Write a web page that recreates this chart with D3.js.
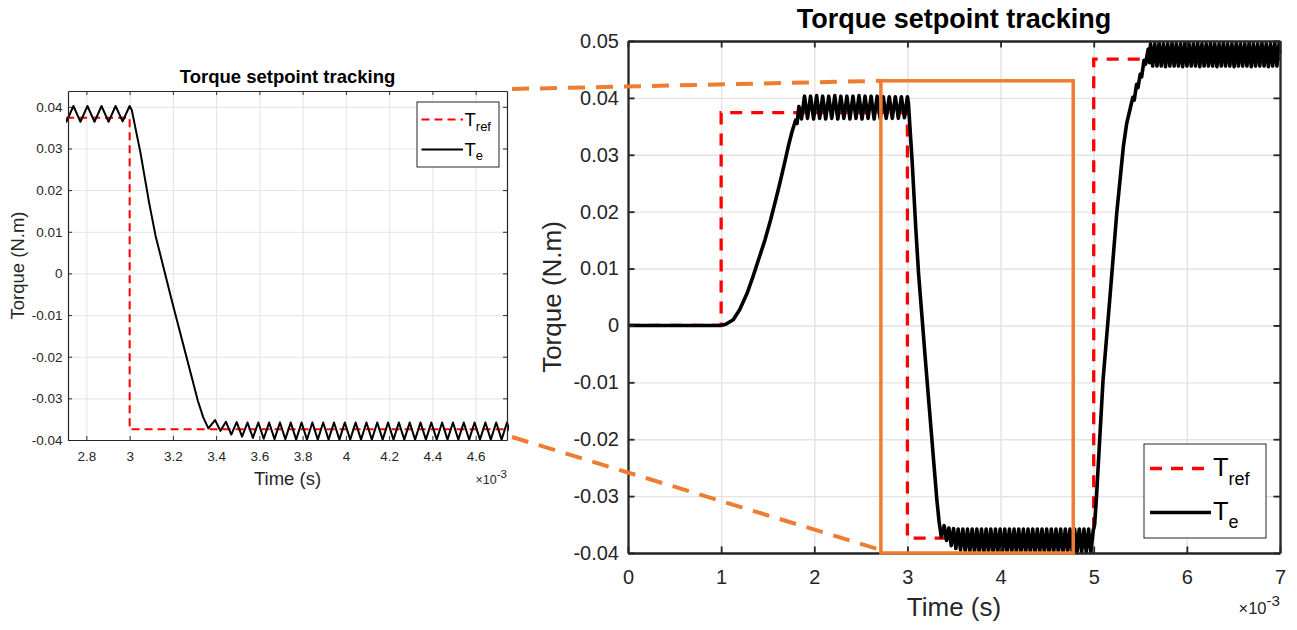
<!DOCTYPE html>
<html>
<head>
<meta charset="utf-8">
<script src="https://cdn.jsdelivr.net/npm/d3@7"></script>
<style>
  body { margin: 0; background: #fff; }
</style>
</head>
<body>
<div id="container"></div>
<script>
const WIDTH = 1297;
const HEIGHT = 630;
const FONT = '"Liberation Sans", Arial, Helvetica, sans-serif';
const AXIS = '#262626';
const GRID = '#e3e3e3';
const ORANGE = '#ED7D31';

// time is in ms (the axis shows x10^-3 s), torque in N.m
const refTime = [0, 1, 1, 3, 3, 5, 5, 7];
const refValue = [0, 0, 0.0374, 0.0374, -0.0374, -0.0374, 0.0468, 0.0468];

// electromagnetic torque
const teIdle = [[0, 0], [0.5, 0], [1.0, 0]];
const teRise1 = [[1.05, 0.0002], [1.13, 0.001], [1.2, 0.0028], [1.28, 0.0057], [1.34, 0.0085],
  [1.40, 0.0115], [1.47, 0.015], [1.53, 0.0185], [1.58, 0.0217], [1.63, 0.025], [1.68, 0.0285],
  [1.72, 0.0314], [1.76, 0.034], [1.80, 0.0361], [1.815, 0.0355], [1.835, 0.0385]];
const tePlateau1 = [[1.8625, 0.0363], [1.895, 0.0403], [1.9275, 0.0364], [1.96, 0.0403], [1.9925, 0.0363],
  [2.025, 0.0404], [2.0575, 0.0364], [2.09, 0.0403], [2.1225, 0.0363], [2.155, 0.0403], [2.1875, 0.0364],
  [2.22, 0.0404], [2.2525, 0.0363], [2.285, 0.0403], [2.3175, 0.0364], [2.35, 0.0403], [2.3825, 0.0363],
  [2.415, 0.0403], [2.4475, 0.0364], [2.48, 0.0404], [2.5125, 0.0363], [2.545, 0.0403], [2.5775, 0.0364],
  [2.61, 0.0403], [2.6425, 0.0363], [2.675, 0.0403], [2.7075, 0.0364], [2.74, 0.0402], [2.7725, 0.0364],
  [2.805, 0.0402], [2.8375, 0.0364], [2.87, 0.0402], [2.9025, 0.0364], [2.935, 0.0402], [2.9675, 0.0365],
  [3.0, 0.0402]];
const teFall = [[3.01, 0.0392], [3.05, 0.0290], [3.09, 0.0170], [3.12, 0.0090], [3.155, 0.0018],
  [3.19, -0.0055], [3.225, -0.0125], [3.26, -0.0195], [3.29, -0.0255], [3.315, -0.0305],
  [3.34, -0.0345], [3.364, -0.0372]];
const tePlateau2 = [[3.395, -0.0352], [3.42, -0.0378], [3.445, -0.0356], [3.47, -0.0387], [3.495, -0.0357],
  [3.52, -0.0392], [3.545, -0.0358], [3.57, -0.0395], [3.595, -0.0358], [3.62, -0.0397], [3.645, -0.0358],
  [3.67, -0.0398], [3.695, -0.0358], [3.72, -0.0398], [3.745, -0.0358], [3.77, -0.0399], [3.795, -0.0358],
  [3.82, -0.0399], [3.845, -0.0358], [3.87, -0.0399], [3.895, -0.0358], [3.92, -0.0399], [3.945, -0.0358],
  [3.97, -0.0399], [3.995, -0.0358], [4.02, -0.0399], [4.045, -0.0358], [4.07, -0.0399], [4.095, -0.0358],
  [4.12, -0.0399], [4.145, -0.0358], [4.17, -0.0399], [4.195, -0.0358], [4.22, -0.0399], [4.245, -0.0358],
  [4.27, -0.0399], [4.295, -0.0358], [4.32, -0.0399], [4.345, -0.0358], [4.37, -0.0399], [4.395, -0.0358],
  [4.42, -0.0399], [4.445, -0.0358], [4.47, -0.0399], [4.495, -0.0358], [4.52, -0.0399], [4.545, -0.0358],
  [4.57, -0.0399], [4.595, -0.0358], [4.62, -0.0399], [4.645, -0.0358], [4.67, -0.0399], [4.695, -0.0358],
  [4.72, -0.0399], [4.745, -0.0358], [4.77, -0.0399], [4.795, -0.0358], [4.82, -0.0399], [4.845, -0.0358],
  [4.87, -0.0399], [4.895, -0.0358], [4.92, -0.0399], [4.945, -0.0358], [4.97, -0.0399], [4.995, -0.0360]];
const teRise2 = [[5.01, -0.0350], [5.03, -0.0301], [5.10, -0.0096], [5.175, 0.0051], [5.247, 0.0197],
  [5.29, 0.0268], [5.318, 0.0314], [5.354, 0.0355], [5.39, 0.0380], [5.42, 0.0401], [5.435, 0.0396],
  [5.46, 0.0424], [5.475, 0.0418], [5.50, 0.0442], [5.515, 0.0437], [5.54, 0.0466], [5.555, 0.0459],
  [5.585, 0.0486], [5.598, 0.0462]];
const tePlateau3 = [[5.61, 0.0495], [5.633, 0.0456], [5.656, 0.0495], [5.679, 0.0456], [5.702, 0.0496],
  [5.725, 0.0456], [5.748, 0.0495], [5.771, 0.0455], [5.794, 0.0495], [5.817, 0.0456], [5.84, 0.0496],
  [5.863, 0.0456], [5.886, 0.0495], [5.909, 0.0456], [5.932, 0.0495], [5.955, 0.0455], [5.978, 0.0496],
  [6.001, 0.0456], [6.024, 0.0495], [6.047, 0.0456], [6.07, 0.0495], [6.093, 0.0456], [6.116, 0.0496],
  [6.139, 0.0455], [6.162, 0.0495], [6.185, 0.0456], [6.208, 0.0495], [6.231, 0.0456], [6.254, 0.0496],
  [6.277, 0.0456], [6.30, 0.0495], [6.323, 0.0455], [6.346, 0.0495], [6.369, 0.0456], [6.392, 0.0496],
  [6.415, 0.0456], [6.438, 0.0495], [6.461, 0.0456], [6.484, 0.0495], [6.507, 0.0455], [6.53, 0.0496],
  [6.553, 0.0456], [6.576, 0.0495], [6.599, 0.0456], [6.622, 0.0495], [6.645, 0.0456], [6.668, 0.0496],
  [6.691, 0.0455], [6.714, 0.0495], [6.737, 0.0456], [6.76, 0.0495], [6.783, 0.0456], [6.806, 0.0496],
  [6.829, 0.0456], [6.852, 0.0495], [6.875, 0.0455], [6.898, 0.0495], [6.921, 0.0456], [6.944, 0.0496],
  [6.967, 0.0456], [6.99, 0.0495], [7.0, 0.0478]];

const leftXTicks = [2.8, 3, 3.2, 3.4, 3.6, 3.8, 4, 4.2, 4.4, 4.6];
const leftYTicks = [-0.04, -0.03, -0.02, -0.01, 0, 0.01, 0.02, 0.03, 0.04];
const rightXTicks = [0, 1, 2, 3, 4, 5, 6, 7];
const rightYTicks = [-0.04, -0.03, -0.02, -0.01, 0, 0.01, 0.02, 0.03, 0.04, 0.05];

// zoomed window shown on the left, marked by the orange box on the right
const zoomTime = [2.715, 4.78];
const zoomTorque = [-0.04, 0.043];

const refPts = refTime.map((t, i) => [t, refValue[i]]);
const tePts = [].concat(teIdle, teRise1, tePlateau1, teFall, tePlateau2, teRise2, tePlateau3);

const svg = d3.select('#container')
  .append('svg')
  .attr('width', WIDTH)
  .attr('height', HEIGHT)
  .style('font-family', FONT);

const yFmt = d => d === 0 ? '0' : d.toFixed(2);

function drawPanel(p) {
  const x = d3.scaleLinear().domain(p.xDomain).range([p.left, p.right]);
  const y = d3.scaleLinear().domain(p.yDomain).range([p.bottom, p.top]);
  const g = svg.append('g');

  // grid
  g.append('g')
    .attr('transform', `translate(0,${p.bottom})`)
    .call(d3.axisBottom(x).tickValues(p.xTicks).tickSize(-(p.bottom - p.top)).tickFormat(''))
    .call(a => a.select('.domain').remove())
    .selectAll('line').attr('stroke', GRID).attr('stroke-width', p.gridWidth);
  g.append('g')
    .attr('transform', `translate(${p.left},0)`)
    .call(d3.axisLeft(y).tickValues(p.yTicks).tickSize(-(p.right - p.left)).tickFormat(''))
    .call(a => a.select('.domain').remove())
    .selectAll('line').attr('stroke', GRID).attr('stroke-width', p.gridWidth);

  // data, clipped to the axes
  svg.append('clipPath').attr('id', 'clip-' + p.name)
    .append('rect')
    .attr('x', p.left - 2).attr('y', p.top - 2)
    .attr('width', p.right - p.left + 4).attr('height', p.bottom - p.top + 4);

  const line = d3.line().x(d => x(d[0])).y(d => y(d[1]));
  const data = g.append('g').attr('clip-path', `url(#clip-${p.name})`);
  data.append('path')
    .datum(refPts)
    .attr('d', line)
    .attr('fill', 'none')
    .attr('stroke', '#ff0000')
    .attr('stroke-width', p.refWidth)
    .attr('stroke-dasharray', p.refDash);
  data.append('path')
    .datum(tePts)
    .attr('d', line)
    .attr('fill', 'none')
    .attr('stroke', '#000')
    .attr('stroke-width', p.teWidth)
    .attr('stroke-linejoin', 'round');

  // box with inward ticks
  const style = (a, labels) => {
    a.select('.domain').attr('stroke', AXIS).attr('stroke-width', p.axisWidth);
    a.selectAll('.tick line').attr('stroke', AXIS).attr('stroke-width', p.axisWidth * 0.8);
    a.selectAll('text')
      .attr('fill', AXIS)
      .attr('font-family', FONT)
      .attr('font-size', p.tickFont);
    if (!labels) a.selectAll('text').remove();
  };
  g.append('g').attr('transform', `translate(0,${p.bottom})`)
    .call(d3.axisBottom(x).tickValues(p.xTicks).tickSize(-p.tickLen).tickSizeOuter(0)
      .tickPadding(p.xPad).tickFormat(d => String(d)))
    .call(a => style(a, true));
  g.append('g').attr('transform', `translate(0,${p.top})`)
    .call(d3.axisTop(x).tickValues(p.xTicks).tickSize(-p.tickLen).tickSizeOuter(0))
    .call(a => style(a, false));
  g.append('g').attr('transform', `translate(${p.left},0)`)
    .call(d3.axisLeft(y).tickValues(p.yTicks).tickSize(-p.tickLen).tickSizeOuter(0)
      .tickPadding(p.yPad).tickFormat(yFmt))
    .call(a => style(a, true));
  g.append('g').attr('transform', `translate(${p.right},0)`)
    .call(d3.axisRight(y).tickValues(p.yTicks).tickSize(-p.tickLen).tickSizeOuter(0))
    .call(a => style(a, false));

  // title and axis labels
  const cx = (p.left + p.right) / 2;
  g.append('text')
    .attr('x', cx).attr('y', p.titleY)
    .attr('text-anchor', 'middle')
    .attr('font-weight', 'bold')
    .attr('font-size', p.titleFont)
    .attr('fill', '#000')
    .text('Torque setpoint tracking');
  g.append('text')
    .attr('x', cx).attr('y', p.xLabelY)
    .attr('text-anchor', 'middle')
    .attr('font-size', p.labelFont)
    .attr('fill', AXIS)
    .text('Time (s)');
  g.append('text')
    .attr('transform', `translate(${p.yLabelX},${(p.top + p.bottom) / 2}) rotate(-90)`)
    .attr('text-anchor', 'middle')
    .attr('font-size', p.labelFont)
    .attr('fill', AXIS)
    .text('Torque (N.m)');

  // x10^-3 exponent
  const ex = g.append('text')
    .attr('x', p.right).attr('y', p.expY)
    .attr('text-anchor', 'end')
    .attr('font-size', p.expFont)
    .attr('fill', AXIS);
  ex.append('tspan').text('\u00d7');
  ex.append('tspan').text('10');
  ex.append('tspan').attr('dy', -p.expRaise).attr('font-size', p.expFont * 0.92).text('-3');

  // legend
  const L = p.legend;
  g.append('rect')
    .attr('x', L.x0).attr('y', L.y0)
    .attr('width', L.x1 - L.x0).attr('height', L.y1 - L.y0)
    .attr('fill', '#fff')
    .attr('stroke', AXIS)
    .attr('stroke-width', 1);
  const entries = [
    { sub: 'ref', y: L.row1, stroke: '#ff0000', dash: p.refDash, w: p.refWidth, subDy: L.refDy },
    { sub: 'e', y: L.row2, stroke: '#000', dash: null, w: p.teWidth, subDy: L.eDy }
  ];
  entries.forEach(e => {
    g.append('line')
      .attr('x1', L.lx0).attr('x2', L.lx1)
      .attr('y1', e.y).attr('y2', e.y)
      .attr('stroke', e.stroke)
      .attr('stroke-width', e.w)
      .attr('stroke-dasharray', e.dash);
    const t = g.append('text')
      .attr('x', L.tx).attr('y', e.y + L.baseOff)
      .attr('font-size', L.font)
      .attr('fill', '#000');
    t.append('tspan').text('T');
    t.append('tspan').attr('dy', e.subDy).attr('font-size', L.subFont).text(e.sub);
  });

  return { x, y };
}

const left = drawPanel({
  name: 'left',
  left: 68, right: 507, top: 91, bottom: 440,
  xDomain: [2.715, 4.745], yDomain: [-0.04, 0.0438],
  xTicks: leftXTicks, yTicks: leftYTicks,
  gridWidth: 1, axisWidth: 1.2, tickLen: 4,
  tickFont: 13.5, xPad: 11.5, yPad: 5.5,
  refWidth: 2, refDash: '8,5', teWidth: 2,
  titleFont: 18.5, titleY: 82.5,
  labelFont: 18.5, xLabelY: 485, yLabelX: 24,
  expFont: 12.5, expY: 484, expRaise: 6,
  legend: { x0: 417, y0: 102, x1: 499, y1: 167, lx0: 421.5, lx1: 463, tx: 464.5,
    row1: 119.5, row2: 149.5, baseOff: 6, font: 18.5, subFont: 13, refDy: 5, eDy: 4.5 }
});

const right = drawPanel({
  name: 'right',
  left: 628, right: 1280, top: 41, bottom: 553,
  xDomain: [0, 7], yDomain: [-0.04, 0.05],
  xTicks: rightXTicks, yTicks: rightYTicks,
  gridWidth: 1.4, axisWidth: 2.3, tickLen: 6.5,
  tickFont: 20, xPad: 17, yPad: 9,
  refWidth: 3.3, refDash: '12,9', teWidth: 3.6,
  titleFont: 27, titleY: 28,
  labelFont: 26, xLabelY: 616, yLabelX: 561,
  expFont: 16.5, expY: 614, expRaise: 8,
  legend: { x0: 1144, y0: 444, x1: 1266, y1: 538, lx0: 1150, lx1: 1211, tx: 1213,
    row1: 468.5, row2: 512.5, baseOff: 7, font: 25.5, subFont: 18, refDy: 9, eDy: 8 }
});

// orange zoom box and the dashed leaders to the detail plot
const bx0 = right.x(zoomTime[0]);
const bx1 = right.x(zoomTime[1]);
const by0 = right.y(zoomTorque[1]);
const by1 = right.y(zoomTorque[0]);
const lx = left.x.range()[1];
const [lyBottom, lyTop] = left.y.range();

svg.append('rect')
  .attr('x', bx0).attr('y', by0)
  .attr('width', bx1 - bx0).attr('height', by1 - by0)
  .attr('fill', 'none')
  .attr('stroke', ORANGE)
  .attr('stroke-width', 3.5);

const leaders = [
  [[lx + 5, lyTop - 2], [bx0, by0]],
  [[lx + 5, lyBottom - 3], [bx0, by1 - 3]]
];
svg.selectAll('line.leader')
  .data(leaders)
  .enter()
  .append('line')
  .attr('class', 'leader')
  .attr('x1', d => d[0][0]).attr('y1', d => d[0][1])
  .attr('x2', d => d[1][0]).attr('y2', d => d[1][1])
  .attr('stroke', ORANGE)
  .attr('stroke-width', 4)
  .attr('stroke-dasharray', '17,11');
</script>
</body>
</html>
